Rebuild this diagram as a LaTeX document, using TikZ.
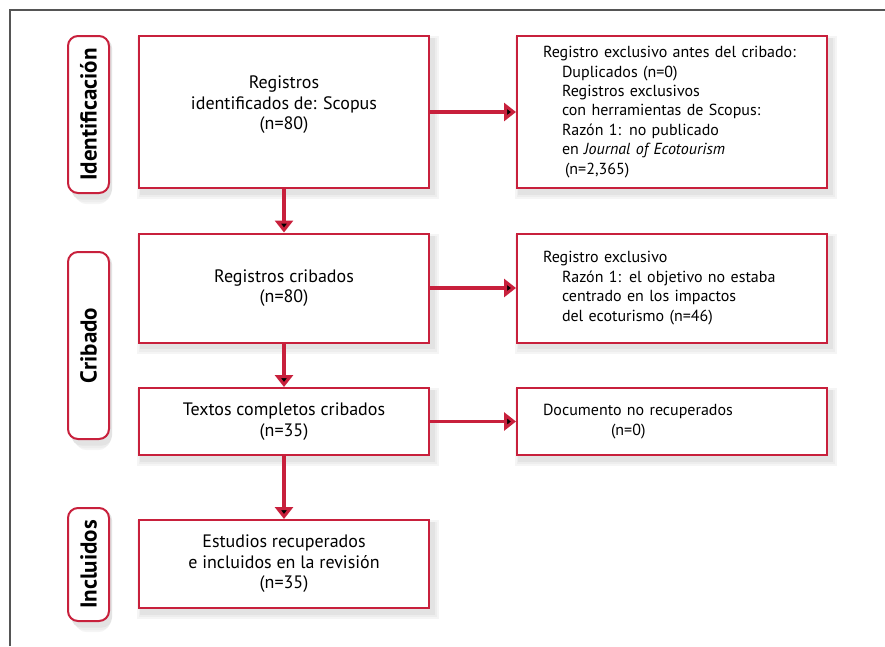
\documentclass[tikz,border=0pt]{standalone}
\usepackage{fontspec}
\setmainfont{PT Sans}
\usetikzlibrary{arrows.meta,backgrounds}
\definecolor{prismared}{RGB}{200,32,60}
\definecolor{framegray}{RGB}{85,85,85}
\newcommand{\boxfont}{\fontsize{18}{20.5}\selectfont}
\newcommand{\notefont}{\fontsize{16}{19.4}\selectfont}
\newcommand{\ind}{\hspace*{19pt}}
\tikzset{
  stagebox/.style={draw=prismared, line width=2pt, fill=white,
    font=\boxfont, align=center, inner sep=0pt},
  notebox/.style={stagebox, font=\notefont, align=left, inner xsep=26pt, text width=258pt},
  phase/.style={draw=prismared, line width=2pt, fill=white, rounded corners=10pt,
    rotate=90, inner sep=0pt, minimum height=41pt,
    font=\bfseries\fontsize{23}{25}\selectfont},
  flow/.style={draw=prismared, line width=3.2pt, -{Triangle[length=12pt,width=18pt]}}
}
\begin{document}
\begin{tikzpicture}[x=1pt,y=-1pt]
  \useasboundingbox (0,0) rectangle (885,646);
  \draw[framegray, line width=1.2pt] (10,646) -- (10,10) -- (885,10);

  % phases
  \node[phase, minimum width=157pt] (idlab) at (88.5,114.5) {Identificación};
  \node[phase, minimum width=187pt] (crlab) at (88.5,345.5) {Cribado};
  \node[phase, minimum width=113pt] (inlab) at (88.5,564.5) {Incluidos};

  % main column
  \node[stagebox, minimum width=290pt, minimum height=152pt] (ident) at (284,112)
    {Registros\\ identificados de: Scopus\\ (n=80)\\[-2pt]\mbox{}};
  \node[stagebox, minimum width=290pt, minimum height=109pt] (crib) at (284,288)
    {Registros cribados\\ (n=80)};
  \node[stagebox, minimum width=290pt, minimum height=67pt] (textos) at (284,421.5)
    {Textos completos cribados\\ (n=35)};
  \node[stagebox, minimum width=290pt, minimum height=88pt] (incl) at (284,564)
    {Estudios recuperados\\ e incluidos en la revisión\\ (n=35)};

  % exclusions
  \node[notebox, minimum height=152pt] (excl1) at (672,112)
    {Registro exclusivo antes del cribado:\\
     \ind Duplicados (n=0)\\
     \ind Registros exclusivos\\
     \ind con herramientas de Scopus:\\
     \ind Razón 1: no publicado\\
     \ind en \textit{Journal of Ecotourism}\\
     \hspace*{22pt}(n=2,365)};
  \node[notebox, minimum height=109pt] (excl2) at (672,288)
    {Registro exclusivo\\
     \ind Razón 1: el objetivo no estaba\\
     \ind centrado en los impactos\\
     \ind del ecoturismo (n=46)};
  \node[notebox, minimum height=67pt] (norec) at (672,421.5)
    {Documento no recuperados\\
     \hspace*{68pt}(n=0)};

  % soft shadows
  \begin{scope}[on background layer]
    \foreach \n/\r in {idlab/10pt,crlab/10pt,inlab/10pt,ident/0pt,crib/0pt,textos/0pt,
                       incl/0pt,excl1/0pt,excl2/0pt,norec/0pt} {
      \fill[black!4, rounded corners=\r] ([shift={(-1pt,-10pt)}]\n.south west) rectangle ([shift={(9pt,-1pt)}]\n.north east);
      \fill[black!7, rounded corners=\r] ([shift={(1pt,-8pt)}]\n.south west) rectangle ([shift={(7pt,-3pt)}]\n.north east);
      \fill[black!11, rounded corners=\r] ([shift={(2pt,-5.5pt)}]\n.south west) rectangle ([shift={(4.5pt,-3pt)}]\n.north east);
    }
  \end{scope}

  \path[flow]
    (ident) edge (crib)
    (crib) edge (textos)
    (textos) edge (incl);
  \path[flow]
    (ident) edge (excl1)
    (crib) edge (excl2)
    (textos) edge (norec);
\end{tikzpicture}
\end{document}
